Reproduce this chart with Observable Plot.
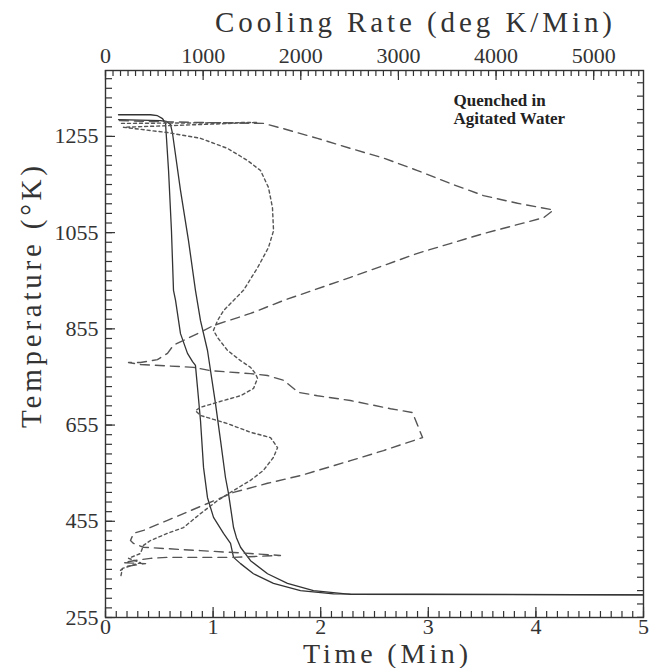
<!DOCTYPE html>
<html><head><meta charset="utf-8">
<script src="https://cdn.jsdelivr.net/npm/d3@7"></script>
<script src="https://cdn.jsdelivr.net/npm/@observablehq/plot@0.6"></script>
<style>
html,body{margin:0;padding:0;background:#fff;}
svg{overflow:visible;}
</style>
</head><body><div id="chart"></div>
<script>
// ---- Data ----
// Temperature vs time, thermocouple A (solid, left)
const timeA = [0.121,0.418,0.483,0.530,0.558,0.586,0.613,0.632,0.651,0.697,0.762,0.809,0.836,0.855,0.883,0.911,0.948,1.004,1.097,1.162,1.190,1.255,1.375,1.561,1.812,2.119,5.0];
const tempA = [1300,1300,1298,1292,1282,1184,1059,935,914,845,804,787,779,733,664,567,504,463,430,409,380,367,346,326,311,304,302];
// Temperature vs time, thermocouple B (solid, right)
const timeB = [0.121,0.511,0.567,0.604,0.623,0.697,0.771,0.836,0.883,0.948,1.022,1.069,1.115,1.143,1.190,1.217,1.255,1.348,1.506,1.691,1.933,2.277,5.0];
const tempB = [1290,1288,1286,1280,1261,1143,1039,935,872,810,700,623,546,513,442,421,401,373,346,326,311,303,302];
// Cooling rate vs temperature (long dashes)
const rateC = [143,461,973,1618,1823,2171,2509,2847,3196,3533,3871,4220,4588,4486,3871,3196,2509,1823,1485,1106,973,696,635,532,358,236,358,901,1075,1485,1659,1823,1977,2171,2509,2919,3144,3247,2847,2509,1997,1659,1311,1045,799,635,389,287,256,287,389,635,973,1485,1792,1311,973,635,461,287,184,410,205,154];
const tempC = [1288,1286,1284,1282,1271,1251,1230,1210,1184,1157,1132,1116,1102,1086,1053,1012,962,914,887,862,848,821,804,791,785,785,781,775,768,762,758,748,723,716,706,689,681,629,602,581,550,534,515,492,471,457,436,430,415,409,401,398,394,388,384,380,380,380,378,373,369,367,361,353];
// Cooling rate vs temperature (short dashes)
const rateD = [164,1557,184,635,973,1250,1454,1588,1669,1710,1721,1669,1557,1413,1311,1209,1147,1106,1147,1250,1383,1485,1536,1557,1516,1383,1209,973,922,973,1250,1485,1690,1762,1721,1618,1485,1311,1147,973,799,635,461,389,358,236,358,174,154];
const tempD = [1282,1284,1274,1263,1251,1230,1205,1184,1149,1107,1059,1024,982,935,914,893,872,852,837,810,789,775,762,752,731,716,706,692,685,675,658,640,629,608,588,561,540,519,498,471,442,430,415,405,388,378,369,357,338];

// Axis tick values and labels
const timeTicks = [0, 1, 2, 3, 4, 5];
const rateTicks = [0, 1000, 2000, 3000, 4000, 5000];
const tempTicks = [255, 455, 655, 855, 1055, 1255];
const titleTop = "Cooling Rate (deg K/Min)";
const titleBottom = "Time (Min)";
const titleLeft = "Temperature (°K)";
const noteLines = ["Quenched in", "Agitated Water"];
const noteRate = 3565, noteTemp = 1344;

// Scale extents
const TIME_MAX = 5, RATE_MAX = 5510, TEMP_MIN = 255, TEMP_MAX = 1392;
const rateToTime = r => r * TIME_MAX / RATE_MAX;

const timeMinor = d3.range(0, 51).map(i => i / 10);
const rateMinor = d3.range(0, 72).map(i => i * 1000 / 13).filter(r => r <= RATE_MAX);
const tempMinor = d3.range(TEMP_MIN, TEMP_MAX, 20);
const rightTicks = d3.range(0, 2050, 50).map(f => (f - 32) * 5 / 9 + 273.15).filter(k => k >= TEMP_MIN && k <= TEMP_MAX);

const A = timeA.map((t, i) => ({x: t, y: tempA[i]}));
const B = timeB.map((t, i) => ({x: t, y: tempB[i]}));
const C = rateC.map((r, i) => ({x: rateToTime(r), y: tempC[i]}));
const D = rateD.map((r, i) => ({x: rateToTime(r), y: tempD[i]}));

const W = 655, H = 668, ML = 105, MR = 12, MT = 70, MB = 51;
const FW = W - ML - MR, FH = H - MT - MB;
const ink = "#333";

// inward ticks: tick marks spanning the frame, inset down to a short length
const tk = {stroke: ink, strokeWidth: 1.2};
const ticksBottom = (vals, len) => Plot.tickX(vals, {x: d => d, insetTop: FH - len, ...tk});
const ticksTop = (vals, len) => Plot.tickX(vals, {x: d => d, insetBottom: FH - len, ...tk});
const ticksLeft = (vals, len) => Plot.tickY(vals, {y: d => d, insetRight: FW - len, ...tk});
const ticksRight = (vals, len) => Plot.tickY(vals, {y: d => d, insetLeft: FW - len, ...tk});

const chart = Plot.plot({
  width: W, height: H,
  marginLeft: ML, marginRight: MR, marginTop: MT, marginBottom: MB,
  x: {domain: [0, TIME_MAX]},
  y: {domain: [TEMP_MIN, TEMP_MAX]},
  style: {fontFamily: "'Liberation Serif', serif", fontSize: "22px", color: ink, background: "white"},
  marks: [
    ticksBottom(timeMinor, 6), ticksBottom(timeTicks, 10),
    ticksTop(rateMinor.map(rateToTime), 6), ticksTop(rateTicks.map(rateToTime), 10),
    ticksLeft(tempMinor, 7), ticksLeft(tempTicks, 10),
    ticksRight(rightTicks, 6),
    Plot.frame({stroke: ink, strokeWidth: 1.4}),
    Plot.axisX({anchor: "bottom", ticks: timeTicks, tickSize: 0, tickPadding: 1, tickFormat: d => String(d), label: null, fontSize: 22}),
    Plot.axisX({anchor: "top", ticks: rateTicks.map(rateToTime), tickSize: 0, tickPadding: 8, tickFormat: v => String(Math.round(v * RATE_MAX / TIME_MAX)), label: null, fontSize: 22}),
    Plot.axisY({anchor: "left", ticks: tempTicks, tickSize: 0, tickPadding: 7, tickFormat: d => String(d), label: null, fontSize: 22}),
    Plot.line(A, {x: "x", y: "y", stroke: ink, strokeWidth: 1.3}),
    Plot.line(B, {x: "x", y: "y", stroke: ink, strokeWidth: 1.3}),
    Plot.line(C, {x: "x", y: "y", stroke: "#555", strokeWidth: 1.4, strokeDasharray: "9,6"}),
    Plot.line(D, {x: "x", y: "y", stroke: "#555", strokeWidth: 1.4, strokeDasharray: "3,3"}),
    Plot.text([noteLines.join("\n")], {x: rateToTime(noteRate), y: noteTemp, text: d => d, textAnchor: "start", lineAnchor: "top", fontWeight: "bold", fontSize: 17, lineHeight: 1.05, fill: "#222"}),
    Plot.text([titleTop], {frameAnchor: "top", textAnchor: "middle", dx: 39, dy: -39, lineAnchor: "bottom", fontSize: 29, fill: ink}),
    Plot.text([titleBottom], {frameAnchor: "bottom", textAnchor: "middle", dx: 11, dy: 45, lineAnchor: "bottom", fontSize: 28, fill: ink}),
    Plot.text([titleLeft], {frameAnchor: "left", textAnchor: "middle", rotate: -90, dx: -74, dy: -47, lineAnchor: "middle", fontSize: 29, fill: ink})
  ]
});
document.getElementById("chart").appendChild(chart);
const lengths = {[titleTop]: 397, [titleBottom]: 165, [titleLeft]: 262};
chart.querySelectorAll("text").forEach(t => {
  const L = lengths[t.textContent];
  if (L) { t.setAttribute("textLength", L); t.setAttribute("lengthAdjust", "spacing"); }
});
</script>
</body></html>
